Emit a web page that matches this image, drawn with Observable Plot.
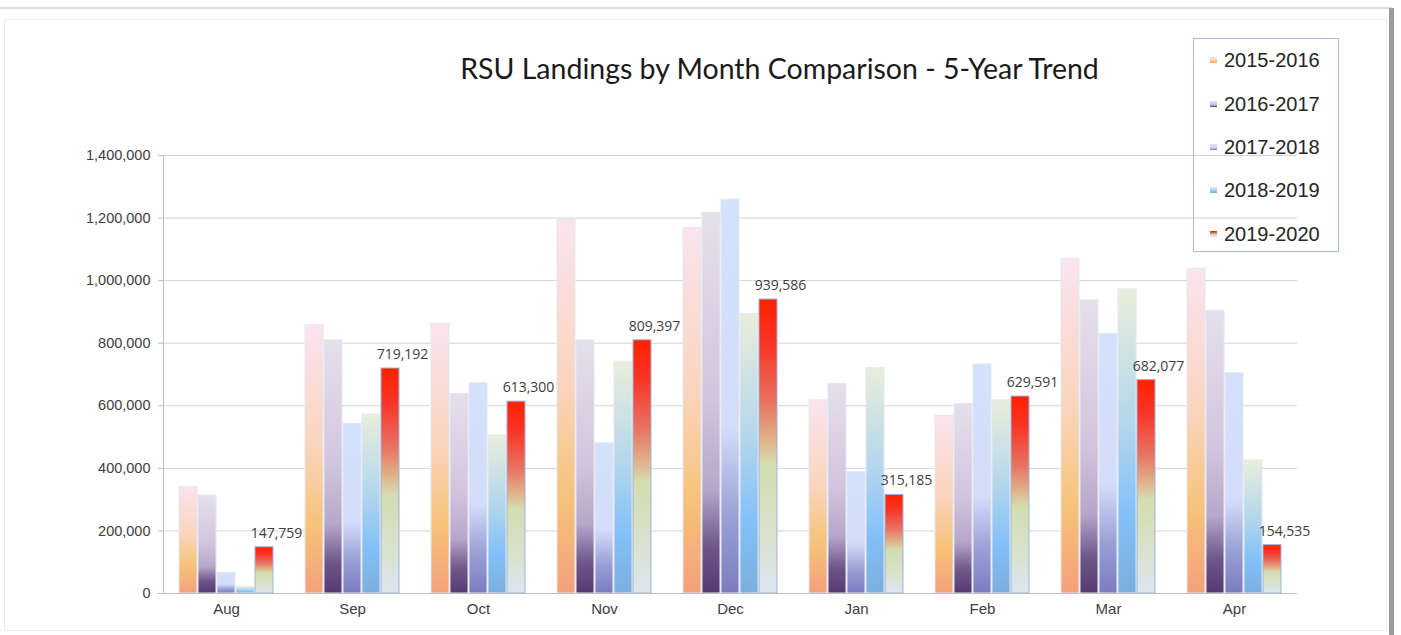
<!DOCTYPE html>
<html><head><meta charset="utf-8">
<script src="https://cdn.jsdelivr.net/npm/d3@7"></script>
<script src="https://cdn.jsdelivr.net/npm/@observablehq/plot@0.6"></script>
<style>
html,body{margin:0;padding:0;background:#fff;width:1401px;height:635px;overflow:hidden}
#wrap{position:relative;width:1401px;height:635px;font-family:"Liberation Sans",Arial,sans-serif}
#topline{position:absolute;left:0;top:7px;width:1392px;height:2px;background:#dadada}
#shadow{position:absolute;left:1389px;top:8px;width:5px;height:627px;background:#9c9c9c}
#panel{position:absolute;left:4px;top:19px;width:1381px;height:610px;border:1px solid #ececec}
#chart{position:absolute;left:0;top:0}
#title{position:absolute;left:0;width:1559px;top:51px;text-align:center;font-family:Lato,"Open Sans",sans-serif;font-size:28.5px;color:#1a1a1a;white-space:nowrap}
#legend{position:absolute;left:1193px;top:38px;width:146px;height:214px;border:1px solid #a9bde0;box-sizing:border-box}
.li{position:absolute;left:16px;font-size:20px;color:#262626;line-height:20px;white-space:nowrap}
.sw{display:inline-block;width:7px;height:6px;margin-right:7px;vertical-align:middle;position:relative;top:-2px}
</style></head>
<body><div id="wrap">
<div id="topline"></div><div id="panel"></div><div id="shadow"></div>
<div id="chart"></div>
<div id="title">RSU Landings by Month Comparison - 5-Year Trend</div>
<div id="legend"></div>
</div>
<script>
const months = ["Aug","Sep","Oct","Nov","Dec","Jan","Feb","Mar","Apr"];
const seasons = ["2015-2016","2016-2017","2017-2018","2018-2019","2019-2020"];
const v2015_2016 = [340000, 857000, 862000, 1194000, 1168000, 617000, 568000, 1070000, 1038000];
const v2016_2017 = [313000, 809000, 638000, 809000, 1217000, 670000, 606000, 937000, 903000];
const v2017_2018 = [66000, 542000, 672000, 480000, 1259000, 388000, 732000, 830000, 704000];
const v2018_2019 = [20000, 572000, 505000, 741000, 894000, 720000, 617000, 972000, 425000];
const v2019_2020 = [147759, 719192, 613300, 809397, 939586, 315185, 629591, 682077, 154535];
const yTicks = [0, 200000, 400000, 600000, 800000, 1000000, 1200000, 1400000];

const seriesValues = [v2015_2016, v2016_2017, v2017_2018, v2018_2019, v2019_2020];
const table = [];
seasons.forEach((s, i) => months.forEach((m, j) => table.push({month: m, season: s, value: seriesValues[i][j]})));

// gradient stops (offset from bottom of bar)
const gradients = [
  [[0,"#f4a07c"],[0.25,"#f6c278"],[0.55,"#fad4bc"],[1,"#fae4f0"]],
  [[0,"#553a72"],[0.12,"#6e5689"],[0.27,"#b6a6c9"],[0.5,"#d2c4dd"],[1,"#e5e0ec"]],
  [[0,"#7b7cbf"],[0.2,"#9ba2d6"],[0.42,"#d3ddf9"],[1,"#d4e0fc"]],
  [[0,"#7caedd"],[0.25,"#82c0f8"],[0.55,"#b2d6ec"],[1,"#e9eedb"]],
  [[0,"#dde6f0"],[0.2,"#d8e2cc"],[0.44,"#d4dcb0"],[0.52,"#dfb28a"],[0.65,"#e87262"],[0.85,"#f83424"],[1,"#ff2200"]]
];

const fmt = d3.format(",");
const marks = [
  Plot.gridY(yTicks, {stroke: "#d4d4d4", strokeOpacity: 1}),
  ...seasons.map((s, i) => Plot.barY(table.filter(d => d.season === s), {
    fx: "month", x: "season", y: "value",
    fill: `url(#grad${i})`,
    stroke: i === 4 ? "#9fb3dd" : "#e4e7ef", strokeWidth: 1
  })),
  Plot.ruleY([0], {stroke: "#bfbfbf"}),
  Plot.frame({anchor: "left", stroke: "#bfbfbf", facetAnchor: "left"}),
  Plot.axisY(yTicks, {tickSize: 5, tickPadding: 8, tickFormat: fmt, stroke: "#bfbfbf", fill: "#404040", label: null, fontSize: 14.5}),
  Plot.axisFx({anchor: "bottom", tickSize: 0, tickPadding: 10, label: null, fill: "#404040", fontSize: 15}),
  Plot.text(table.filter(d => d.season === "2019-2020"), {
    fx: "month", x: "season", y: "value", text: d => fmt(d.value),
    dy: -14, dx: 12, fill: "#404040", fontSize: 14, fontFamily: "'Open Sans', sans-serif"
  })
];

const svg = Plot.plot({
  width: 1401, height: 635,
  marginLeft: 160, marginRight: 101, marginTop: 155, marginBottom: 42,
  style: {background: "transparent", fontFamily: "'Liberation Sans', Arial, sans-serif", overflow: "visible"},
  fx: {domain: months, padding: 0, label: null},
  x: {domain: seasons, paddingInner: 0.05, paddingOuter: 0.75, axis: null},
  y: {domain: [0, 1400000], axis: null},
  marks
});

const defs = d3.select(svg).insert("defs", ":first-child");
gradients.forEach((stops, i) => {
  const g = defs.append("linearGradient").attr("id", `grad${i}`)
    .attr("x1", 0).attr("y1", 1).attr("x2", 0).attr("y2", 0);
  stops.forEach(([o, c]) => g.append("stop").attr("offset", o).attr("stop-color", c));
});
document.getElementById("chart").appendChild(svg);

// legend
const legend = document.getElementById("legend");
const legendTops = [11, 55, 98, 141, 185];
seasons.forEach((s, i) => {
  const el = document.createElement("div");
  el.className = "li";
  el.style.top = (legendTops[i]) + "px";
  el.innerHTML = `<span class="sw" style="background:linear-gradient(to bottom, ${gradients[i].slice().reverse().map(([o,c]) => c + ' ' + (100 - o*100) + '%').join(',')})"></span>${s}`;
  legend.appendChild(el);
});
</script>
</body></html>
